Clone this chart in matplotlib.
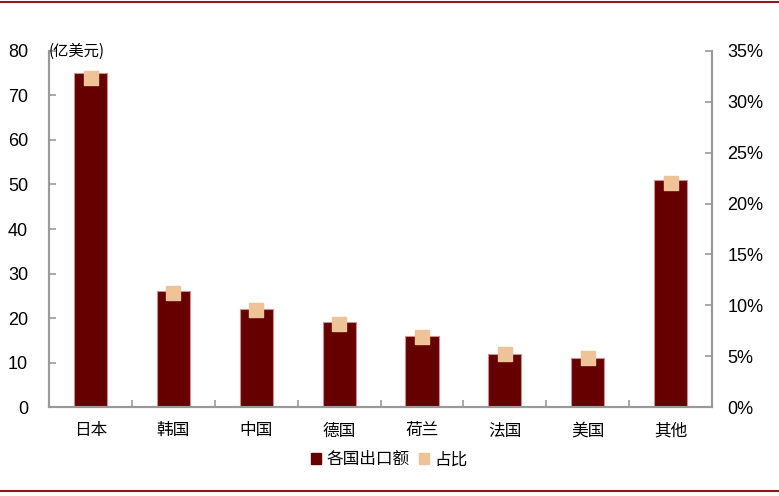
import matplotlib
matplotlib.use('Agg')
import matplotlib.pyplot as plt
from matplotlib.lines import Line2D
from matplotlib.patches import Patch
import numpy as np

plt.rcParams['font.family'] = ['Liberation Sans', 'Noto Sans CJK SC', 'DejaVu Sans']

# 数据
countries = ['日本', '韩国', '中国', '德国', '荷兰', '法国', '美国', '其他']
export_value = [75, 26, 22, 19, 16, 12, 11, 51]          # 亿美元
share_pct = [32.3, 11.2, 9.5, 8.2, 6.9, 5.2, 4.8, 22.0]  # %

bar_color = '#660000'
mark_color = '#EDC397'
spine_color = '#999999'
cjk = ['Noto Sans CJK SC', 'DejaVu Sans']

fig = plt.figure(figsize=(7.79, 4.96), dpi=100)
ax = fig.add_axes([0.063, 0.1794, 0.851, 0.7178])
ax2 = ax.twinx()

x = np.arange(len(countries))
ax.bar(x, export_value, width=0.4, color=bar_color, edgecolor='#C89090', linewidth=0.8, zorder=2)
ax2.scatter(x, share_pct, marker='s', s=110, color=mark_color, zorder=3)

ax.set_xlim(-0.5, len(countries) - 0.5)
ax.set_ylim(0, 80)
ax.set_yticks(range(0, 81, 10))
ax2.set_ylim(0, 35)
ax2.set_yticks(range(0, 36, 5))
ax2.set_yticklabels([f'{v}%' for v in range(0, 36, 5)])

ax.set_xticks(x)
ax.set_xticklabels(countries, fontfamily=cjk, fontsize=12)
ax.set_xticks(np.arange(-0.5, len(countries)), minor=True)
ax.tick_params(axis='x', which='major', length=0, pad=11)
ax.tick_params(axis='x', which='minor', direction='in', length=5, color=spine_color, width=1.2)
ax.tick_params(axis='y', direction='in', length=5, color=spine_color, width=1.2, labelsize=13, pad=15)
ax2.tick_params(axis='y', direction='in', length=5, color=spine_color, width=1.2, labelsize=13, pad=11)

for a in (ax, ax2):
    a.spines['top'].set_visible(False)
    for s in ('left', 'right', 'bottom'):
        a.spines[s].set_color(spine_color)
        a.spines[s].set_linewidth(1.5)

ax.text(0.0, 80, '(亿美元)', fontfamily=cjk, fontsize=11, va='center', ha='left',
        transform=ax.get_yaxis_transform())

handles = [Patch(color=bar_color), Patch(color=mark_color)]
fig.legend(handles, ['各国出口额', '占比'], loc='center', bbox_to_anchor=(0.5, 0.073), ncol=2,
           frameon=False, prop={'family': cjk, 'size': 12}, handlelength=0.6, handleheight=0.6,
           handletextpad=0.3, columnspacing=0.6)

# 上下装饰线
fig.add_artist(Line2D([0, 1], [0.996, 0.996], color='#8B1A1A', linewidth=1.5, transform=fig.transFigure))
fig.add_artist(Line2D([0, 1], [0.01, 0.01], color='#8B1A1A', linewidth=1.5, transform=fig.transFigure))

fig.savefig('out.png', dpi=100)
